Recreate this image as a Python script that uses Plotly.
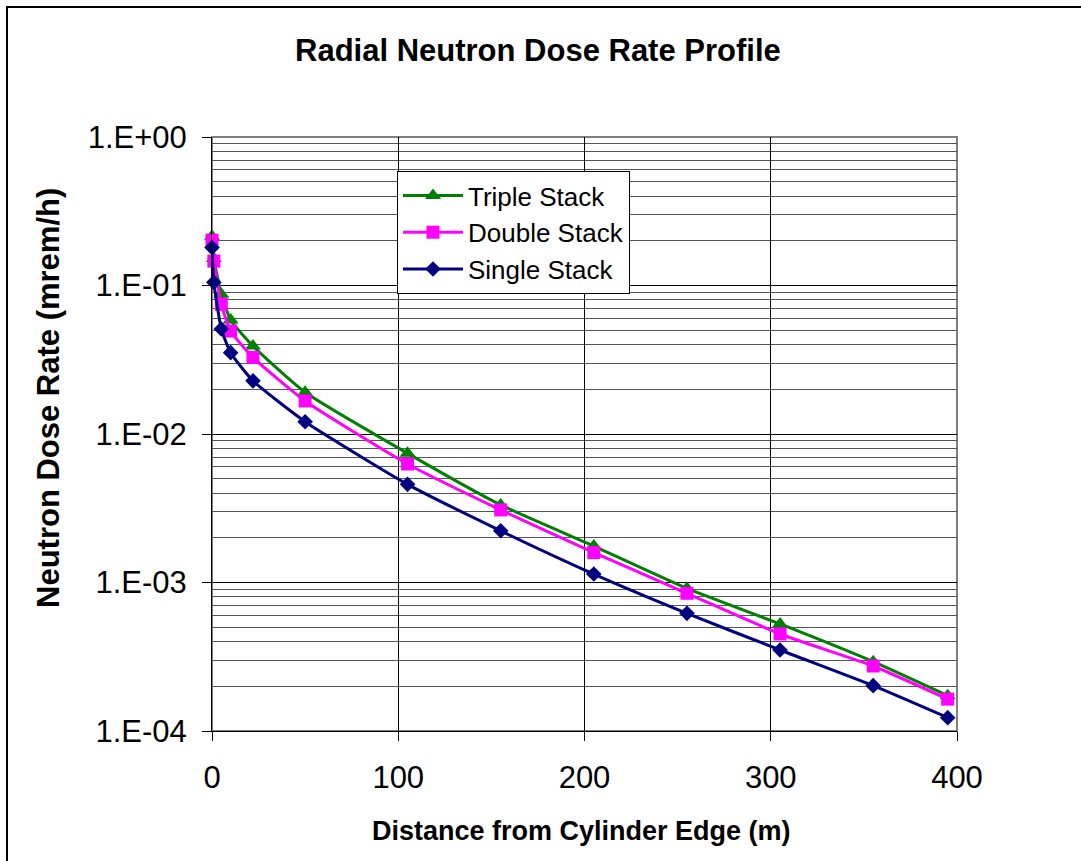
import plotly.graph_objects as go

# ---- data ----
distance_m = [0, 1, 5, 10, 22, 50, 105, 155, 205, 255, 305, 355, 395]

triple_stack = [0.215, 0.152, 0.0873, 0.0586, 0.0391, 0.0191, 0.00741,
                0.00333, 0.00176, 0.000914, 0.000526, 0.000293, 0.000173]
double_stack = [0.202, 0.146, 0.0747, 0.0494, 0.0328, 0.0167, 0.00628,
                0.00308, 0.00159, 0.000846, 0.000450, 0.000274, 0.000164]
single_stack = [0.180, 0.105, 0.0509, 0.0353, 0.0228, 0.0121, 0.00458,
                0.00223, 0.00114, 0.000620, 0.000351, 0.000202, 0.000123]

series_names = ["Triple Stack", "Double Stack", "Single Stack"]

y_tick_vals = [1, 0.1, 0.01, 0.001, 0.0001]
y_tick_text = ["1.E+00", "1.E-01", "1.E-02", "1.E-03", "1.E-04"]
x_tick_vals = [0, 100, 200, 300, 400]

FONT = "Liberation Sans, Arial, sans-serif"

fig = go.Figure()

styles = [
    dict(color="#008000", symbol="triangle-up", size=14),
    dict(color="#FF00FF", symbol="square", size=13),
    dict(color="#000080", symbol="diamond", size=12),
]
for name, vals, st in zip(series_names, [triple_stack, double_stack, single_stack], styles):
    fig.add_trace(go.Scatter(
        x=distance_m, y=vals, name=name, mode="lines+markers",
        legendgroup=name,
        line=dict(color=st["color"], width=3, shape="spline", smoothing=0.5),
        marker=dict(color=st["color"], symbol=st["symbol"], size=st["size"],
                    line=dict(width=0)),
        cliponaxis=False,
    ))

W, H = 1081, 861
L, R, T, B = 212, 124, 137, 130
pw = W - L - R
ph = H - T - B

def px(xpix):
    return (xpix - L) / pw

def py(ypix):
    return (H - B - ypix) / ph

fig.update_layout(
    width=W, height=H,
    margin=dict(l=L, r=R, t=T, b=B, pad=0),
    paper_bgcolor="white", plot_bgcolor="white",
    font=dict(family=FONT, color="black"),
    showlegend=True,
    legend=dict(
        x=px(397), y=py(171), xanchor="left", yanchor="top",
        bgcolor="white", bordercolor="black", borderwidth=1,
        font=dict(family=FONT, size=26, color="black"),
        traceorder="grouped", tracegroupgap=0, itemwidth=60,
    ),
    xaxis=dict(
        range=[0, 400], tickvals=x_tick_vals,
        showgrid=True, gridcolor="black", gridwidth=1,
        zeroline=False, showline=True, linecolor="black", linewidth=1,
        ticks="outside", ticklen=9, tickcolor="black",
        ticklabelstandoff=10,
        tickfont=dict(family=FONT, size=31, color="black"),
    ),
    yaxis=dict(
        type="log", range=[-4, 0],
        tickmode="array", tickvals=y_tick_vals, ticktext=y_tick_text,
        showgrid=True, gridcolor="black", gridwidth=1,
        minor=dict(dtick="D1", showgrid=True, gridcolor="#555555", gridwidth=1, ticks=""),
        zeroline=False, showline=True, linecolor="black", linewidth=1,
        ticks="outside", ticklen=9, tickcolor="black",
        ticklabelstandoff=9,
        tickfont=dict(family=FONT, size=31, color="black"),
    ),
    shapes=[
        # plot-area border (grey)
        dict(type="rect", xref="paper", yref="paper", x0=0, x1=1, y0=0, y1=1,
             line=dict(color="#808080", width=2), layer="below"),
        # outer chart border
        dict(type="rect", xref="paper", yref="paper",
             x0=px(7), x1=px(1090), y0=py(870), y1=py(7),
             line=dict(color="black", width=2), layer="above"),
    ],
    annotations=[
        dict(text="<b>Radial Neutron Dose Rate Profile</b>", xref="paper", yref="paper",
             x=px(538), y=py(50), xanchor="center", yanchor="middle", showarrow=False,
             font=dict(family=FONT, size=31, color="black")),
        dict(text="<b>Distance from Cylinder Edge (m)</b>", xref="paper", yref="paper",
             x=px(581), y=py(831), xanchor="center", yanchor="middle", showarrow=False,
             font=dict(family=FONT, size=27, color="black")),
        dict(text="<b>Neutron Dose Rate (mrem/h)</b>", xref="paper", yref="paper",
             x=px(48), y=py(398), xanchor="center", yanchor="middle", showarrow=False,
             textangle=-90, font=dict(family=FONT, size=31, color="black")),
    ],
)

fig.write_html(
    "out.html",
    config={"displayModeBar": False},
    post_script="document.body.style.margin='0px';document.body.style.overflow='hidden';"
                "document.documentElement.style.overflow='hidden';",
)
